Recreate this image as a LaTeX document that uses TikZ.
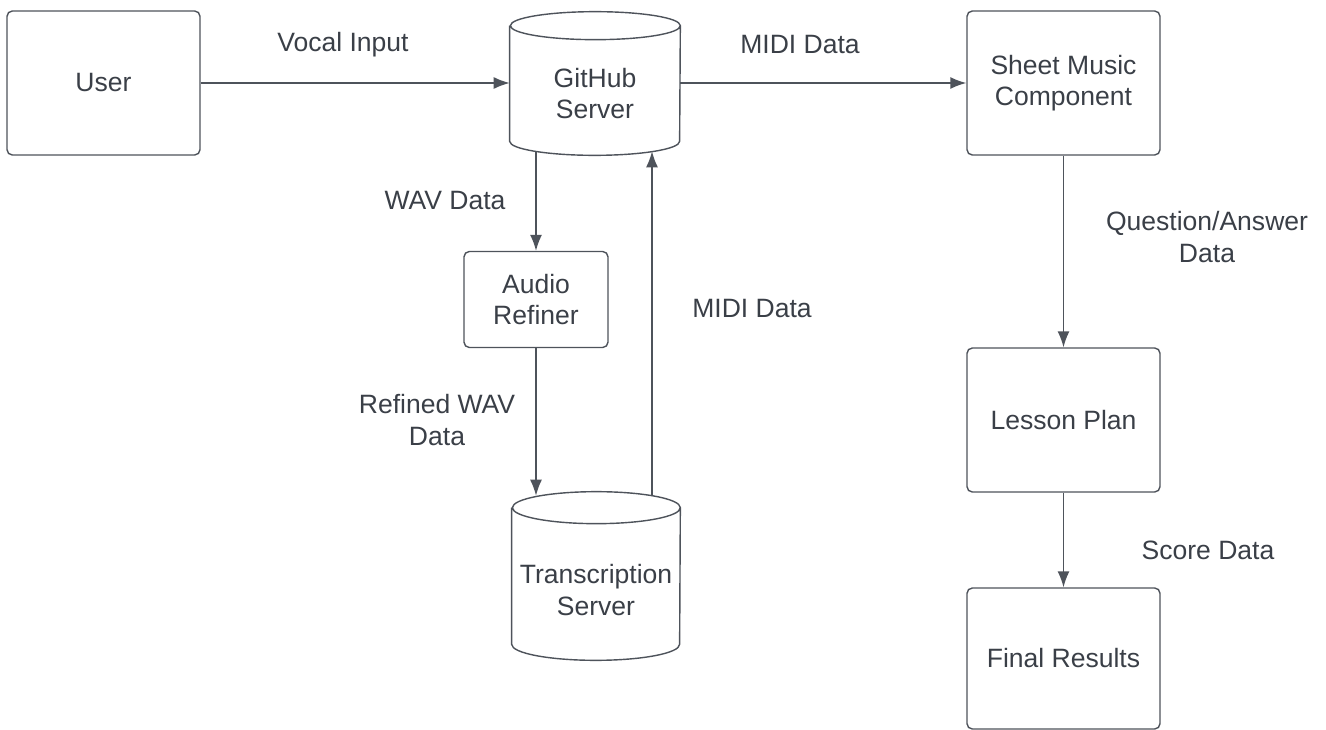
\documentclass[tikz,border=0pt]{standalone}
\usepackage{fontspec}
\setmainfont{Liberation Sans}
\usetikzlibrary{arrows.meta,calc,positioning}

\definecolor{linegray}{HTML}{4E535B}
\definecolor{textgray}{HTML}{3A3F47}

\tikzset{
  lbl/.style={text=textgray, align=center, font=\fontsize{15.1}{18}\selectfont},
  box/.style={lbl, draw=linegray, line width=0.8pt, rounded corners=3pt,
    minimum width=3.86cm, minimum height=2.88cm, inner sep=0pt},
  cylbox/.style={minimum width=3.4cm, minimum height=2.86cm, inner sep=0pt},
  arr/.style={->, draw=linegray, line width=0.8pt},
  cylline/.style={draw=linegray, fill=white, line width=0.8pt}
}

\begin{document}
\begin{tikzpicture}[x=0.02cm, y=0.02cm, >={Latex[length=0.32cm,width=0.24cm]}]
    \useasboundingbox (0,0) rectangle (1326,-730);

    % boxes
    \node[box] (user) at (103.5,-83) {User};
    \node[box] (sheet) at (1063.5,-83) {Sheet Music\\Component};
    \node[box] (lesson) at (1063.5,-420) {Lesson Plan};
    \node[box, minimum height=2.82cm] (final) at (1063.5,-658.5) {Final Results};
    \node[box, minimum width=2.88cm, minimum height=1.92cm] (refiner) at (536,-299.5) {Audio\\Refiner};

    % cylinders (outline drawn below)
    \node[cylbox] (github) at (595,-83.5) {};
    \node[cylbox, minimum width=3.36cm, minimum height=3.36cm] (trans) at (596,-576) {};

    % connectors
    \draw[arr] (user.east) -- (user.east -| github.west);
    \draw[arr] (github.east |- sheet.west) -- (sheet.west);
    \draw[arr] (sheet.south) -- (lesson.north);
    \draw[arr] (lesson.south) -- (final.north);
    \draw[arr] ($(github.south)+(-59,4)$) coordinate (wavtop) -- (wavtop |- refiner.north);
    \draw[arr] (refiner.south) -- ($(refiner.south |- trans.north)+(0,-4)$);
    \draw[arr] ($(trans.north)+(56,-5)$) coordinate (midibot) -- ($(midibot |- github.south)+(0,4)$);

    \draw[cylline] ([yshift=-0.28cm]github.north west) -- ([yshift=0.28cm]github.south west)
      arc[start angle=180, end angle=360, x radius=1.7cm, y radius=0.28cm]
      -- ([yshift=-0.28cm]github.north east)
      arc[start angle=0, end angle=360, x radius=1.7cm, y radius=0.28cm];
    \draw[cylline] ([yshift=-0.32cm]trans.north west) -- ([yshift=0.32cm]trans.south west)
      arc[start angle=180, end angle=360, x radius=1.68cm, y radius=0.32cm]
      -- ([yshift=-0.32cm]trans.north east)
      arc[start angle=0, end angle=360, x radius=1.68cm, y radius=0.32cm];

    \node[lbl] (github-txt) at ($(github.center)+(0,-10)$) {GitHub\\Server};
    \node[lbl] (trans-txt) at ($(trans.center)+(0,-14)$) {Transcription\\Server};

    % flow labels
    \node[lbl] (vocal) at (343,-45) {Vocal Input};
    \node[lbl] (midi1) at (800,-45) {MIDI Data};
    \node[lbl] (wav) at (445,-201) {WAV Data};
    \node[lbl] (midi2) at (752,-308) {MIDI Data};
    \node[lbl] (refwav) at (437,-420) {Refined WAV\\Data};
    \node[lbl] (qa) at (1207,-237) {Question/Answer\\Data};
    \node[lbl] (score) at (1208,-550) {Score Data};

  \end{tikzpicture}
\end{document}
